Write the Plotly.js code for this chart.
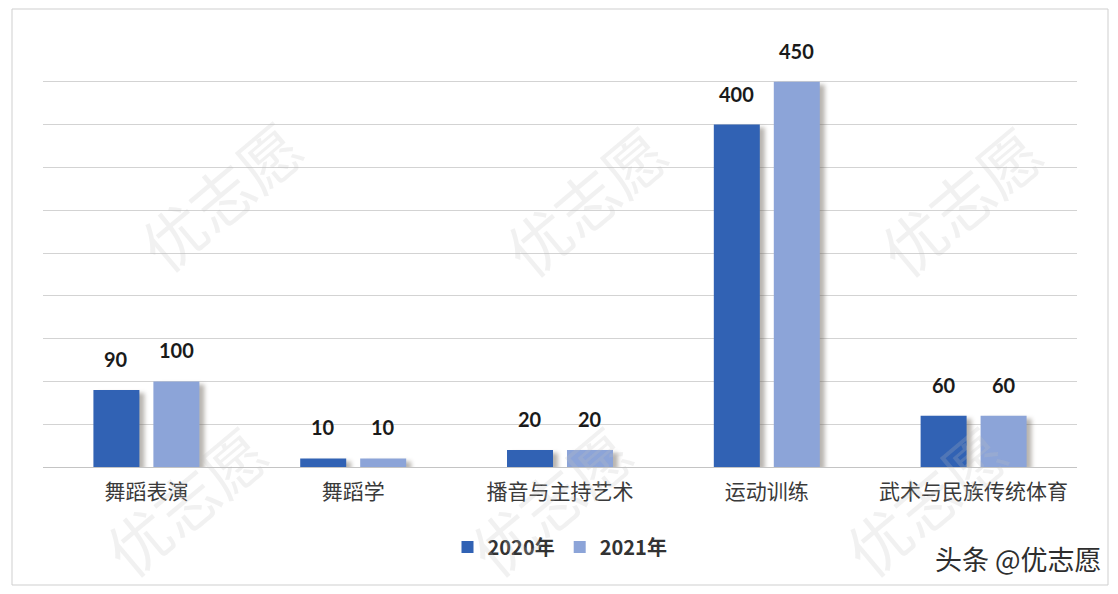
<!DOCTYPE html>
<html>
<head>
<meta charset="utf-8">
<script src="https://cdn.plot.ly/plotly-3.0.1.min.js"></script>
<style>
html,body{margin:0;padding:0;background:#fff;}
#chart{width:1118px;height:594px;}
</style>
</head>
<body>
<div id="chart"></div>
<script>
// ---- data ----
const categories = ["舞蹈表演", "舞蹈学", "播音与主持艺术", "运动训练", "武术与民族传统体育"];
const seriesNames = ["2020年", "2021年"];
const values2020 = [90, 10, 20, 400, 60];
const values2021 = [100, 10, 20, 450, 60];
const watermarkText = "优志愿";
const creditText = "头条 @优志愿";

// ---- geometry helpers (layout only) ----
const W = 1118, H = 594;
const M = {l: 43, r: 41, t: 39, b: 127};
const PW = W - M.l - M.r, PH = H - M.t - M.b;
const px = x => (x - M.l) / PW;
const py = y => (H - M.b - y) / PH;

const colors = ["#3162b4", "#8ca4d8"];

const traces = [
  {type: "bar", name: seriesNames[0], x: categories, y: values2020,
   marker: {color: colors[0]}, hoverinfo: "x+y"},
  {type: "bar", name: seriesNames[1], x: categories, y: values2021,
   marker: {color: colors[1]}, hoverinfo: "x+y"}
];

const annotations = [];
// watermark (drawn first, faint)
const wmPos = [[220,195],[585,200],[960,200],[185,500],[550,500],[925,500]];
wmPos.forEach(p => {
  annotations.push({
    x: px(p[0]), y: py(p[1]), xref: "paper", yref: "paper",
    text: watermarkText, showarrow: false, textangle: -40,
    xanchor: "center", yanchor: "middle",
    font: {family: "Noto Sans CJK SC", size: 62, color: "rgba(190,190,190,0.22)"}
  });
});
// data labels
[values2020, values2021].forEach((vals, si) => {
  vals.forEach((v, i) => {
    annotations.push({
      x: categories[i], y: v, xref: "x", yref: "y",
      text: String(v), showarrow: false,
      xshift: si === 0 ? -30 : 30, yshift: 17, yanchor: "bottom",
      font: {family: "Lato, 'DejaVu Sans', sans-serif", size: 20, color: "#1a1a1a", weight: 700}
    });
  });
});
// credit
annotations.push({
  x: px(1104), y: py(558), xref: "paper", yref: "paper",
  xanchor: "right", yanchor: "middle", showarrow: false,
  text: creditText,
  font: {family: "Noto Sans CJK SC", size: 27, color: "#2e2e2e"}
});

const layout = {
  width: W, height: H,
  margin: M,
  paper_bgcolor: "#ffffff", plot_bgcolor: "#ffffff",
  barmode: "group", bargap: 0.42, bargroupgap: 0.233,
  showlegend: true,
  legend: {orientation: "h", x: 0.5, xanchor: "center", y: py(547), yanchor: "middle",
           font: {family: "'Noto Sans CJK SC', sans-serif", size: 20, color: "#333333", weight: 700},
           itemclick: false},
  xaxis: {type: "category", showgrid: false, showline: false, ticks: "",
          ticklabelstandoff: 10,
          tickfont: {family: "'Noto Sans CJK SC', sans-serif", size: 21, color: "#3a3a3a"}},
  yaxis: {range: [0, 500], dtick: 50, showticklabels: false, ticks: "",
          showgrid: true, gridcolor: "#d3d3d3", gridwidth: 1,
          zeroline: true, zerolinecolor: "#c4c4c4", zerolinewidth: 1, showline: false},
  shapes: [{type: "rect", xref: "paper", yref: "paper",
            x0: px(12), x1: px(1108), y0: py(585), y1: py(9),
            line: {color: "#cfcfcf", width: 1}, fillcolor: "rgba(0,0,0,0)", layer: "below"}],
  annotations: annotations
};

Plotly.newPlot("chart", traces, layout, {displayModeBar: false, staticPlot: true}).then(gd => {
  gd.querySelectorAll(".bars .point path").forEach(p => {
    p.style.filter = "drop-shadow(5px 3px 2px rgba(100,90,80,0.45))";
  });
});
</script>
</body>
</html>
